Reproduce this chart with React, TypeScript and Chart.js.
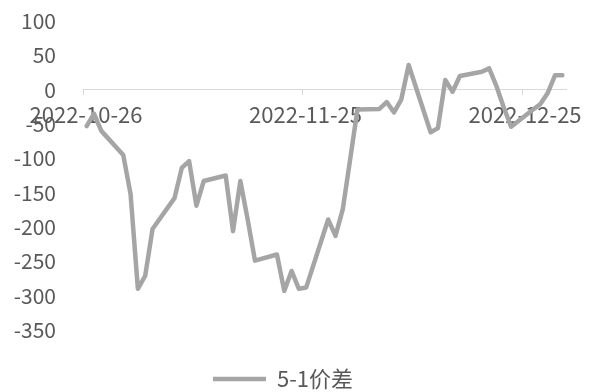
import React, { useEffect, useRef } from "react";
import { Chart, registerables } from "chart.js";

Chart.register(...registerables);

const seriesName = "5-1价差";

const dates = [
  "2022-10-26", "2022-10-27", "2022-10-28", "2022-10-31",
  "2022-11-01", "2022-11-02", "2022-11-03", "2022-11-04",
  "2022-11-07", "2022-11-08", "2022-11-09", "2022-11-10", "2022-11-11",
  "2022-11-14", "2022-11-15", "2022-11-16", "2022-11-17", "2022-11-18",
  "2022-11-21", "2022-11-22", "2022-11-23", "2022-11-24", "2022-11-25",
  "2022-11-28", "2022-11-29", "2022-11-30", "2022-12-01", "2022-12-02",
  "2022-12-05", "2022-12-06", "2022-12-07", "2022-12-08", "2022-12-09",
  "2022-12-12", "2022-12-13", "2022-12-14", "2022-12-15", "2022-12-16",
  "2022-12-19", "2022-12-20", "2022-12-21", "2022-12-22", "2022-12-23",
  "2022-12-26", "2022-12-27", "2022-12-28", "2022-12-29", "2022-12-30",
];

const values = [
  -53, -35, -60, -95,
  -152, -290, -271, -203,
  -158, -114, -104, -169, -133,
  -125, -206, -133, -189, -249,
  -240, -293, -264, -290, -288,
  -189, -213, -174, -102, -29,
  -28, -18, -33, -14, 36,
  -62, -56, 14, -3, 20,
  26, 31, 5, -26, -54,
  -29, -21, -5, 21, 21,
];

const xTickLabels = ["2022-10-26", "2022-11-25", "2022-12-25"];
const axisStart = "2022-10-26";
const axisEnd = "2022-12-30";

const yMin = -350;
const yMax = 100;
const yStep = 50;

function dayIndex(d: string): number {
  const [y, m, dd] = d.split("-").map(Number);
  const [y0, m0, d0] = axisStart.split("-").map(Number);
  return Math.round((Date.UTC(y, m - 1, dd) - Date.UTC(y0, m0 - 1, d0)) / 86400000);
}

const FONT = "'Noto Sans CJK SC', 'Noto Sans', sans-serif";
const TEXT = "#595959";
const LINE = "#a5a5a5";
const AXIS = "#d9d9d9";

export default function App() {
  const ref = useRef<HTMLCanvasElement | null>(null);

  useEffect(() => {
    document.body.style.margin = "0";
    const canvas = ref.current;
    if (!canvas) return;
    const chart = new Chart(canvas, {
      type: "line",
      data: {
        datasets: [
          {
            label: seriesName,
            data: dates.map((d, i) => ({ x: dayIndex(d), y: values[i] })),
            borderColor: LINE,
            backgroundColor: LINE,
            borderWidth: 4.5,
            borderCapStyle: "round",
            borderJoinStyle: "round",
            pointRadius: 0,
            pointHoverRadius: 0,
            tension: 0,
            fill: false,
          },
        ],
      },
      options: {
        responsive: false,
        animation: false,
        events: [],
        layout: { padding: { top: 21, right: 25, bottom: 0, left: 0 } },
        plugins: {
          tooltip: { enabled: false },
          legend: {
            display: true,
            position: "bottom",
            maxHeight: 62,
            labels: {
              usePointStyle: true,
              pointStyle: "line",
              pointStyleWidth: 53,
              padding: 38,
              color: TEXT,
              font: { family: FONT, size: 22 },
            },
          },
        },
        scales: {
          x: {
            type: "linear",
            position: { y: 0 },
            min: -0.5,
            max: dayIndex(axisEnd) + 0.5,
            afterBuildTicks: (scale: any) => {
              scale.ticks = xTickLabels.map((d) => ({ value: dayIndex(d) - 0.5 }));
            },
            ticks: {
              autoSkip: false,
              maxRotation: 0,
              minRotation: 0,
              padding: 7,
              labelOffset: 3,
              color: TEXT,
              font: { family: FONT, size: 22 },
              callback: (_v: any, i: number) => xTickLabels[i],
            },
            grid: {
              display: true,
              drawOnChartArea: false,
              drawTicks: true,
              tickLength: 5,
              color: AXIS,
              lineWidth: 1,
            },
            border: { display: true, color: AXIS, width: 1 },
          },
          y: {
            type: "linear",
            position: "left",
            min: yMin,
            max: yMax,
            afterFit: (scale: any) => {
              scale.width = 83;
              scale.paddingTop = 0;
              scale.paddingBottom = 0;
            },
            ticks: {
              stepSize: yStep,
              padding: 27,
              color: TEXT,
              font: { family: FONT, size: 21 },
            },
            grid: { display: false, drawTicks: false },
            border: { display: false },
          },
        },
      },
    });
    return () => chart.destroy();
  }, []);

  return (
    <div style={{ position: "relative", width: 591, height: 392 }}>
      <canvas ref={ref} width={591} height={392} style={{ display: "block" }} />
    </div>
  );
}
